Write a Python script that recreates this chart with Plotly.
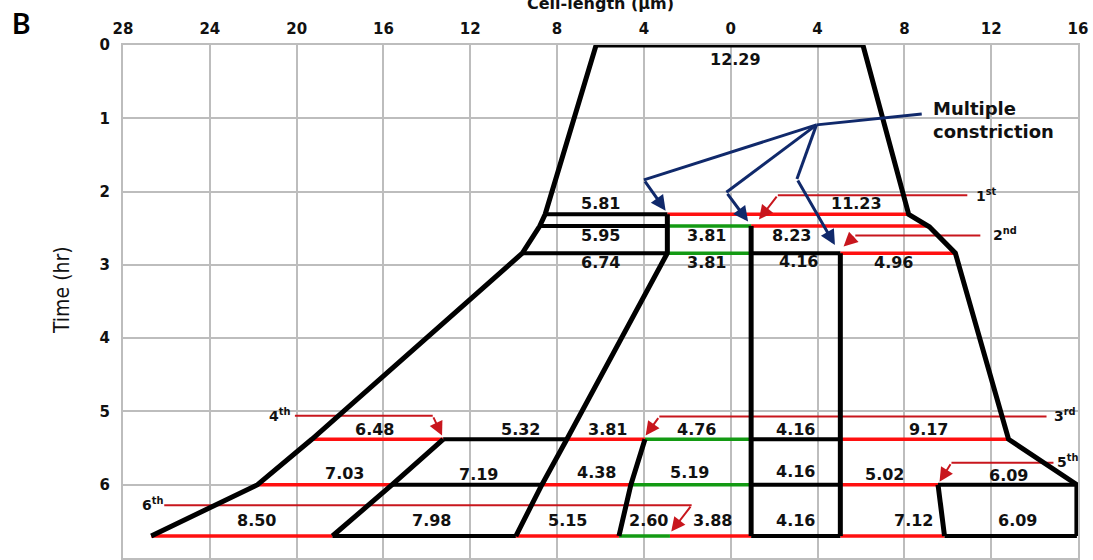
import plotly.graph_objects as go

# ---------------- cell outline (x: cell length in µm, t: time in hr) ----------------
top_x = [-6.20, 6.09]
left_wall_x = [-6.20, -8.55, -8.80, -9.60, -19.30, -21.80, -26.70]
left_wall_t = [0.00, 2.31, 2.47, 2.84, 5.38, 6.00, 6.70]
right_wall_x = [6.09, 8.20, 9.15, 10.00, 10.35, 12.80, 15.95, 15.95]
right_wall_t = [0.00, 2.31, 2.48, 2.72, 2.84, 5.38, 6.00, 6.70]

# ---------------- division rows: edges and colour of each compartment ----------------
# colour codes: k = black (septum), r = red (constriction), g = green
row1_t, row1_edges, row1_cols = 2.31, [-8.55, -2.92, 8.20], "kr"
row2_t, row2_edges, row2_cols = 2.47, [-8.80, -2.92, 0.94, 9.10], "kgr"
row3_t, row3_edges, row3_cols = 2.84, [-9.60, -2.92, 0.94, 5.05, 10.35], "kgkr"
row4_t, row4_edges, row4_cols = 5.38, [-19.30, -13.25, -7.55, -3.95, 0.94, 5.05, 12.80], "rkrgkr"
row5_t, row5_edges, row5_cols = 6.00, [-21.80, -15.60, -8.70, -4.60, 0.94, 5.05, 9.55, 15.95], "rkrgkrk"
row6_t, row6_edges, row6_cols = 6.70, [-26.70, -18.35, -9.90, -5.15, -2.80, 0.94, 5.05, 9.85, 15.95], "rkrgrkrk"

# ---------------- internal septa ----------------
septum_a_x = [-2.92, -2.92, -7.55, -8.70, -9.90]
septum_a_t = [2.31, 2.84, 5.38, 6.00, 6.70]
septum_b_x = [0.94, 0.94]
septum_b_t = [2.47, 6.70]
septum_c_x = [5.05, 5.05]
septum_c_t = [2.84, 6.70]
septum_d_x = [-13.25, -15.60, -18.35]
septum_d_t = [5.38, 6.00, 6.70]
septum_e_x = [-3.95, -4.60, -5.15]
septum_e_t = [5.38, 6.00, 6.70]
septum_f_x = [9.55, 9.85]
septum_f_t = [6.00, 6.70]

# ---------------- compartment lengths (µm) ----------------
len_text = ["12.29",
            "5.81", "11.23",
            "5.95", "3.81", "8.23",
            "6.74", "3.81", "4.16", "4.96",
            "6.48", "5.32", "3.81", "4.76", "4.16", "9.17",
            "7.03", "7.19", "4.38", "5.19", "4.16", "5.02", "6.09",
            "8.50", "7.98", "5.15", "2.60", "3.88", "4.16", "7.12", "6.09"]
len_x = [0.2,
         -6.0, 5.8,
         -6.0, -1.1, 2.8,
         -6.0, -1.1, 3.1, 7.5,
         -16.4, -9.7, -5.7, -1.6, 3.0, 9.1,
         -17.8, -11.6, -6.2, -1.9, 3.0, 7.1, 12.8,
         -21.85, -13.8, -7.5, -3.8, -0.85, 3.0, 8.4, 13.2]
len_t = [0.20,
         2.16, 2.16,
         2.60, 2.60, 2.60,
         2.97, 2.97, 2.95, 2.97,
         5.24, 5.24, 5.24, 5.24, 5.24, 5.24,
         5.85, 5.86, 5.84, 5.84, 5.82, 5.86, 5.87,
         6.49, 6.49, 6.49, 6.49, 6.49, 6.49, 6.49, 6.49]

# ---------------- order of constriction pointers ----------------
ptr_text = ["1<sup>st</sup>", "2<sup>nd</sup>", "3<sup>rd</sup>",
            "4<sup>th</sup>", "5<sup>th</sup>", "6<sup>th</sup>"]
ptr_text_x = [11.8, 12.65, 15.4, -20.8, 15.5, -26.65]
ptr_text_t = [2.04, 2.58, 5.05, 5.05, 5.68, 6.26]
ptr_line_x0 = [10.9, 11.5, 14.55, -20.08, 14.87, -26.10]
ptr_line_x1 = [2.17, 5.74, -3.29, -13.73, 10.17, -1.80]
ptr_line_t = [2.05, 2.60, 5.07, 5.06, 5.70, 6.28]
ptr_head_x = [1.30, 5.20, -3.92, -13.30, 9.62, -2.74]
ptr_head_t = [2.38, 2.75, 5.33, 5.33, 5.96, 6.64]

# ---------------- multiple constriction arrows ----------------
hub_x, hub_t = 3.95, 1.09
label_line_x, label_line_t = 8.8, 0.94
mc_bend_x = [-4.00, -0.20, 3.05]
mc_bend_t = [1.84, 2.01, 1.83]
mc_head_x = [-3.00, 0.80, 4.80]
mc_head_t = [2.26, 2.41, 2.73]

# ---------------- axes ----------------
x_tickvals = [-28, -24, -20, -16, -12, -8, -4, 0, 4, 8, 12, 16]
x_ticktext = ["28", "24", "20", "16", "12", "8", "4", "0", "4", "8", "12", "16"]
y_tickvals = [0, 1, 2, 3, 4, 5, 6, 7]

RED = "#FF1010"
GREEN = "#139A13"
BLACK = "#000000"
PTR_RED = "#C8161D"
NAVY = "#10296B"
COLOURS = {"k": BLACK, "r": RED, "g": GREEN}
SANS = "DejaVu Sans, Arial, sans-serif"
NUM_FONT = dict(family=SANS, size=16, color="#111111", weight="bold")

fig = go.Figure()


def add_line(xs, ts, colour, width):
    fig.add_trace(go.Scatter(x=xs, y=ts, mode="lines", hoverinfo="skip",
                             line=dict(color=colour, width=width),
                             showlegend=False))


# pointer lines (beneath the cell walls)
for x0, x1, t in zip(ptr_line_x0, ptr_line_x1, ptr_line_t):
    add_line([x0, x1], [t, t], PTR_RED, 2)

# coloured division rows
rows = [(row1_t, row1_edges, row1_cols), (row2_t, row2_edges, row2_cols),
        (row3_t, row3_edges, row3_cols), (row4_t, row4_edges, row4_cols),
        (row5_t, row5_edges, row5_cols), (row6_t, row6_edges, row6_cols)]
for code in "rgk":
    xs, ts = [], []
    for t, edges, cols in rows:
        for i, c in enumerate(cols):
            if c == code:
                xs += [edges[i], edges[i + 1], None]
                ts += [t, t, None]
    add_line(xs, ts, COLOURS[code], 4 if code == "k" else 3.5)

# outline and septa
add_line(top_x, [0, 0], BLACK, 5)
add_line(left_wall_x, left_wall_t, BLACK, 5)
add_line(right_wall_x, right_wall_t, BLACK, 5)
for sx, st in [(septum_a_x, septum_a_t), (septum_b_x, septum_b_t),
               (septum_c_x, septum_c_t), (septum_d_x, septum_d_t),
               (septum_e_x, septum_e_t), (septum_f_x, septum_f_t)]:
    add_line(sx, st, BLACK, 5)

# navy arrows for the multiple constriction
add_line([label_line_x, hub_x], [label_line_t, hub_t], NAVY, 3)
for bx, bt in zip(mc_bend_x, mc_bend_t):
    add_line([hub_x, bx], [hub_t, bt], NAVY, 3)

annotations = []
for bx, bt, hx, ht in zip(mc_bend_x, mc_bend_t, mc_head_x, mc_head_t):
    annotations.append(dict(x=hx, y=ht, ax=bx, ay=bt, xref="x", yref="y",
                            axref="x", ayref="y", text="", showarrow=True,
                            arrowhead=2, arrowsize=1, arrowwidth=3,
                            arrowcolor=NAVY, standoff=0))
for x1, t, hx, ht in zip(ptr_line_x1, ptr_line_t, ptr_head_x, ptr_head_t):
    annotations.append(dict(x=hx, y=ht, ax=x1, ay=t, xref="x", yref="y",
                            axref="x", ayref="y", text="", showarrow=True,
                            arrowhead=2, arrowsize=1.4, arrowwidth=2,
                            arrowcolor=PTR_RED, standoff=0))

# compartment length labels
for txt, x, t in zip(len_text, len_x, len_t):
    annotations.append(dict(x=x, y=t, text=txt, showarrow=False, xref="x", yref="y",
                            font=NUM_FONT))

# order labels
for txt, x, t in zip(ptr_text, ptr_text_x, ptr_text_t):
    annotations.append(dict(x=x, y=t, text=txt, showarrow=False, xref="x", yref="y",
                            font=dict(family=SANS, size=14, color="#111111", weight="bold")))

# multiple constriction label
annotations.append(dict(x=9.25, y=1.02, text="Multiple<br>constriction", showarrow=False,
                        xref="x", yref="y", xanchor="left", yanchor="middle", align="left",
                        font=dict(family=SANS, size=18, color="#111111", weight="bold")))

# titles and panel letter
annotations.append(dict(x=0.5, y=1 + 42 / 515, xref="paper", yref="paper",
                        text="Cell-length (µm)", showarrow=False,
                        xanchor="center", yanchor="middle",
                        font=dict(family=SANS, size=16, color="#111111", weight="bold")))
annotations.append(dict(x=-(123 - 62) / 955, y=1 - (291 - 45) / 515, xref="paper",
                        yref="paper", text="Time (hr)", showarrow=False, textangle=-90,
                        xanchor="center", yanchor="middle",
                        font=dict(family="Liberation Sans Narrow, DejaVu Sans Condensed, Arial Narrow, sans-serif",
                                  size=21, color="#111111")))
annotations.append(dict(x=-(123 - 21) / 955, y=1 + (45 - 23) / 515, xref="paper",
                        yref="paper", text="B", showarrow=False,
                        xanchor="center", yanchor="middle",
                        font=dict(family="Lato, Open Sans, sans-serif", size=28,
                                  color="#000000", weight="bold")))

GRID = "#BDBDBD"
TICK_FONT = dict(family=SANS, size=15, color="#111111", weight="bold")
fig.update_layout(
    width=1093, height=560,
    margin=dict(l=123, r=15, t=45, b=0),
    paper_bgcolor="white", plot_bgcolor="white",
    annotations=annotations,
    xaxis=dict(range=[-28, 16], side="top", tickvals=x_tickvals, ticktext=x_ticktext,
               showgrid=True, gridcolor=GRID, gridwidth=2, zeroline=False,
               showline=True, linecolor=GRID, linewidth=2, mirror=True,
               ticks="outside", ticklen=3, tickcolor="rgba(0,0,0,0)",
               tickfont=TICK_FONT),
    yaxis=dict(range=[7, 0], tickvals=y_tickvals,
               showgrid=True, gridcolor=GRID, gridwidth=2, zeroline=False,
               showline=True, linecolor=GRID, linewidth=2, mirror=True,
               ticks="outside", ticklen=8, tickcolor="rgba(0,0,0,0)",
               tickfont=TICK_FONT),
)

fig.write_html("out.html")
